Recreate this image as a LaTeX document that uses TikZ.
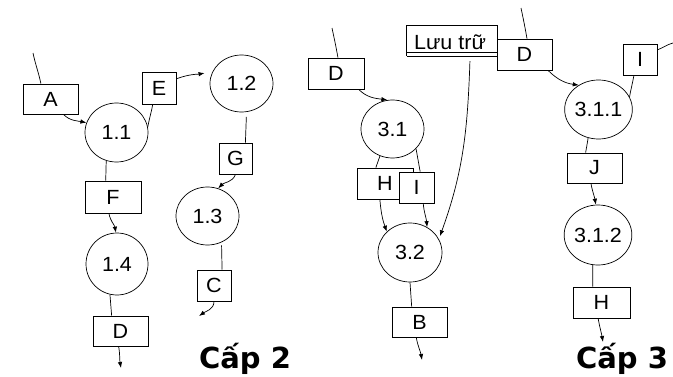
\documentclass[tikz,border=0pt]{standalone}
\usepackage{fontspec}
\setmainfont{Liberation Sans}[FakeStretch=1.05]
\newfontfamily\capfont{DejaVu Sans}
\usetikzlibrary{shapes.geometric,arrows.meta}
\begin{document}
\begin{tikzpicture}[x=1pt,y=1pt,
  lw/.style={line width=0.7pt},
  lbl/.style={font=\fontsize{20.5}{24}\selectfont},
  flowbox/.style={draw,lw,fill=white,rectangle,inner sep=0pt,lbl},
  proc/.style={draw,lw,ellipse,inner sep=0pt,lbl},
  conn/.style={lw},
  arr/.style={lw,-{Latex[length=6pt,width=4.5pt]}},
  lvl/.style={font=\capfont\bfseries\fontsize{29}{34}\selectfont, anchor=base, inner sep=0pt}
]
\useasboundingbox (0,0) rectangle (673,376);

% ---------- Cap 2 ----------
\node[flowbox,minimum width=55pt,minimum height=30pt] (A) at (50.5,277) {A};
\node[proc,minimum width=63pt,minimum height=59pt] (c11) at (116.5,243.5) {1.1};
\node[flowbox,minimum width=34pt,minimum height=32pt] (E) at (159,288) {E};
\node[proc,minimum width=63pt,minimum height=57pt] (c12) at (241.5,292.5) {1.2};
\node[flowbox,minimum width=33pt,minimum height=31pt] (G) at (235.5,217.5) {G};
\node[proc,minimum width=63pt,minimum height=58pt] (c13) at (207.5,160) {1.3};
\node[flowbox,minimum width=34pt,minimum height=31pt] (C) at (214,90.5) {C};
\node[flowbox,minimum width=56pt,minimum height=32pt] (F) at (113,179) {F};
\node[proc,minimum width=62pt,minimum height=62pt] (c14) at (117,112) {1.4};
\node[flowbox,minimum width=55pt,minimum height=30pt] (D2) at (120.5,45) {D};

\coordinate (s1) at (33,323);
\coordinate (e1) at (199,60);
\coordinate (e2) at (121,8);

\draw[conn] (s1) to[out=-78,in=102] (A.122);
\draw[arr] (A.-50) to[out=-45,in=168] (c11.162);
\draw[conn] (c11.10) to[out=80,in=-100] (E.-111);
\draw[arr,shorten >=8pt] (E.28) to[out=20,in=190] (c12.158);
\draw[conn,shorten <=5pt] (c12.-80) -- (G.58);
\draw[arr] (G.south) to[out=-110,in=45] (c13.69);
\draw[conn,shorten <=3pt] (c13.-62) -- (C.63);
\draw[arr] (C.south) to[out=-90,in=35] (e1);
\draw[conn] (c11.-110) -- (F.114);
\draw[arr] (F.-104) to[out=-80,in=100] (c14.92);
\draw[conn] (c14.-103) -- (D2.120);
\draw[arr] (D2.-97) to[out=-80,in=100] (e2);

\node[lvl] (cap2) at (245,8) {Cấp 2};

% ---------- Cap 3 (left) ----------
\node[flowbox,minimum width=56pt,minimum height=31pt] (D3) at (336,302.5) {D};
\node[proc,minimum width=63pt,minimum height=58pt] (c31) at (392.5,247) {3.1};
\node[flowbox,minimum width=56pt,minimum height=31pt] (H3) at (385,192.5) {H};
\node[flowbox,minimum width=35pt,minimum height=31pt] (I3) at (416.5,188.5) {I};
\node[proc,minimum width=64pt,minimum height=59pt] (c32) at (410,123.5) {3.2};
\node[flowbox,minimum width=55pt,minimum height=30pt] (B) at (419.5,54) {B};

\node[rectangle,inner sep=0pt,minimum width=90pt,minimum height=30pt] (store) at (452,335) {};
\node[lbl,anchor=base,inner sep=0pt] (storelbl) at (450,326.5) {Lưu trữ};
\draw[lw] (store.south west) -- (store.north west) -- (store.north east) -- (store.south east);
\draw[lw] (store.south west) -- (store.south east);
\draw[lw] ([yshift=4pt]store.south west) -- ([yshift=4pt]store.south east);

\coordinate (s2) at (332,348);
\coordinate (e3) at (422,16);

\draw[conn] (s2) to[out=-78,in=100] (D3.83);
\draw[arr] (D3.-35) to[out=-45,in=172] (c31.100);
\draw[conn] (c31.-115) -- (H3.120);
\draw[conn] (c31.-40) -- (I3.77);
\draw[arr] (H3.-108) to[out=-85,in=110] (c32.138);
\draw[arr] (I3.-67) to[out=-85,in=95] (c32.56);
\draw[arr,shorten <=5pt,shorten >=3pt] (store.-40.5) to[out=-92,in=70] (c32.25);
\draw[conn] (c32.south) -- (B.117);
\draw[arr] (B.-102) to[out=-80,in=100] (e3);

% ---------- Cap 3 (right) ----------
\node[flowbox,minimum width=55pt,minimum height=31pt] (D4) at (524.5,321.5) {D};
\node[proc,minimum width=65pt,minimum height=59pt] (c311) at (598.5,266.5) {3.1.1};
\node[flowbox,minimum width=34pt,minimum height=31pt] (I4) at (640,316.5) {I};
\node[flowbox,minimum width=55pt,minimum height=30pt] (J) at (594.5,208) {J};
\node[proc,minimum width=64pt,minimum height=60pt] (c312) at (598,141) {3.1.2};
\node[flowbox,minimum width=57pt,minimum height=31pt] (H4) at (601.5,73.5) {H};

\coordinate (s3) at (521,368);
\coordinate (e4) at (673,333);
\coordinate (e5) at (603,34);

\draw[conn] (s3) to[out=-78,in=100] (D4.81);
\draw[arr] (D4.-34.5) to[out=-45,in=172] (c311.129);
\draw[conn] (I4.-111) to[out=-100,in=80] (c311.22);
\draw[conn] (I4.29) to[out=20,in=195] (e4);
\draw[conn] (c311.-110) -- (J.120);
\draw[arr] (J.-103) to[out=-80,in=100] (c312.94);
\draw[conn] (c312.-100) -- (H4.119);
\draw[arr] (H4.-102) to[out=-80,in=100] (e5);

\node[lvl] (cap3) at (622,8) {Cấp 3};
\end{tikzpicture}
\end{document}
